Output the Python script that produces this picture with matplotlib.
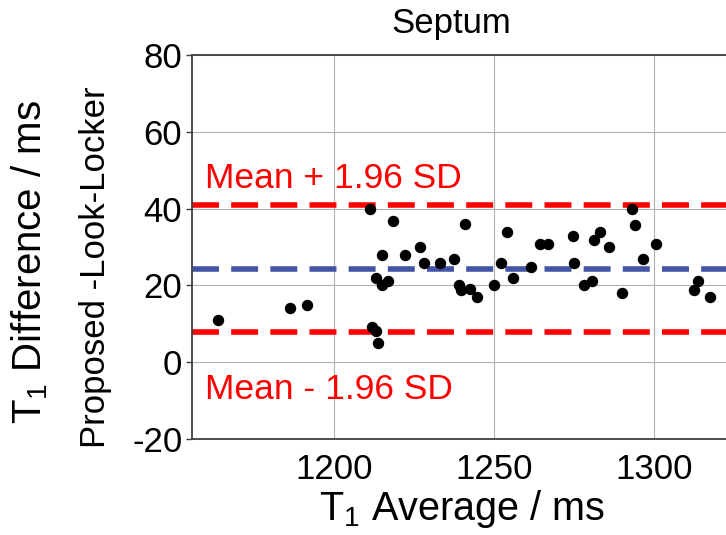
import matplotlib
matplotlib.use("Agg")
from matplotlib import pyplot as plt

plt.rcParams['font.family'] = ['Liberation Sans', 'DejaVu Sans']
plt.rcParams['mathtext.fontset'] = 'custom'
plt.rcParams['mathtext.rm'] = 'Liberation Sans'
plt.rcParams['mathtext.it'] = 'Liberation Sans:italic'
plt.rcParams['axes.unicode_minus'] = False

# Bland-Altman data, septum
t1_avg = [1163.7, 1186.2, 1191.6, 1211.3, 1218.5, 1215.1, 1213.0, 1215.1, 1216.8,
          1211.8, 1213.0, 1213.6, 1222.1, 1227.0, 1228.1, 1233.1, 1237.6, 1241.0,
          1239.1, 1239.6, 1242.5, 1244.6, 1250.1, 1252.1, 1254.1, 1256.0, 1261.6,
          1264.5, 1266.8, 1274.6, 1275.1, 1278.2, 1280.7, 1281.2, 1283.1, 1286.0,
          1290.1, 1293.1, 1294.1, 1296.6, 1300.5, 1312.6, 1313.7, 1317.5]
t1_diff = [11.1, 14.0, 15.0, 39.8, 36.8, 27.9, 22.0, 20.0, 21.1,
           9.2, 8.1, 5.1, 27.9, 29.9, 25.9, 25.9, 26.9, 35.9,
           20.0, 18.9, 19.0, 17.0, 20.0, 25.9, 33.8, 22.0, 24.9,
           30.9, 30.9, 32.9, 25.9, 20.0, 21.1, 31.9, 33.8, 29.9,
           18.0, 39.8, 35.8, 26.9, 30.9, 18.9, 21.1, 17.0]
mean_diff = 24.4
loa_upper = 41.0
loa_lower = 7.9

fig = plt.figure(figsize=(7.26, 5.35), dpi=100)
ax = fig.add_axes([192/726, 1 - 439/535, 1 - 192/726, (439 - 55)/535])

ax.grid(True, color='#b0b0b0', linewidth=0.8)
ax.set_axisbelow(True)

dash = (0, (4.85, 2.2))
ax.axhline(loa_upper, color='#ff0000', linewidth=4, linestyle=dash)
ax.axhline(mean_diff, color='#4354a4', linewidth=4, linestyle=dash)
ax.axhline(loa_lower, color='#ff0000', linewidth=4, linestyle=dash)

ax.scatter(t1_avg, t1_diff, s=52, color='black', zorder=3)

# limit labels
ax.text(1159.8, 47.9, 'Mean + 1.96 SD', color='#ff0000', fontsize=25.5, va='center')
ax.text(1159.8, -7.1, 'Mean - 1.96 SD', color='#ff0000', fontsize=25.5, va='center')

ax.set_xlim(1155.6, 1322.5)
ax.set_ylim(-20, 80)
ax.set_xticks([1200, 1250, 1300])
ax.set_yticks([-20, 0, 20, 40, 60, 80])
ax.tick_params(axis='both', labelsize=25)
ax.tick_params(axis='x', length=0, pad=10)
ax.tick_params(axis='y', length=4, width=1, color='#404040', pad=3)

for s in ['left', 'bottom', 'top']:
    ax.spines[s].set_color('#404040')
    ax.spines[s].set_linewidth(1.3)
ax.spines['right'].set_visible(False)

fig.text(451/726, 1 - 33/535, 'Septum', fontsize=25, ha='center', va='baseline')
fig.text(462/726, 1 - 520/535, 'T$_1$ Average / ms', fontsize=28.5, ha='center', va='baseline')
fig.text(30/726, 1 - 262/535, 'T$_1$ Difference / ms', fontsize=29, ha='center', va='center', rotation=90)
fig.text(96/726, 1 - 267/535, 'Proposed -Look-Locker', fontsize=25, ha='center', va='center', rotation=90)

plt.savefig('out.png', dpi=100)
